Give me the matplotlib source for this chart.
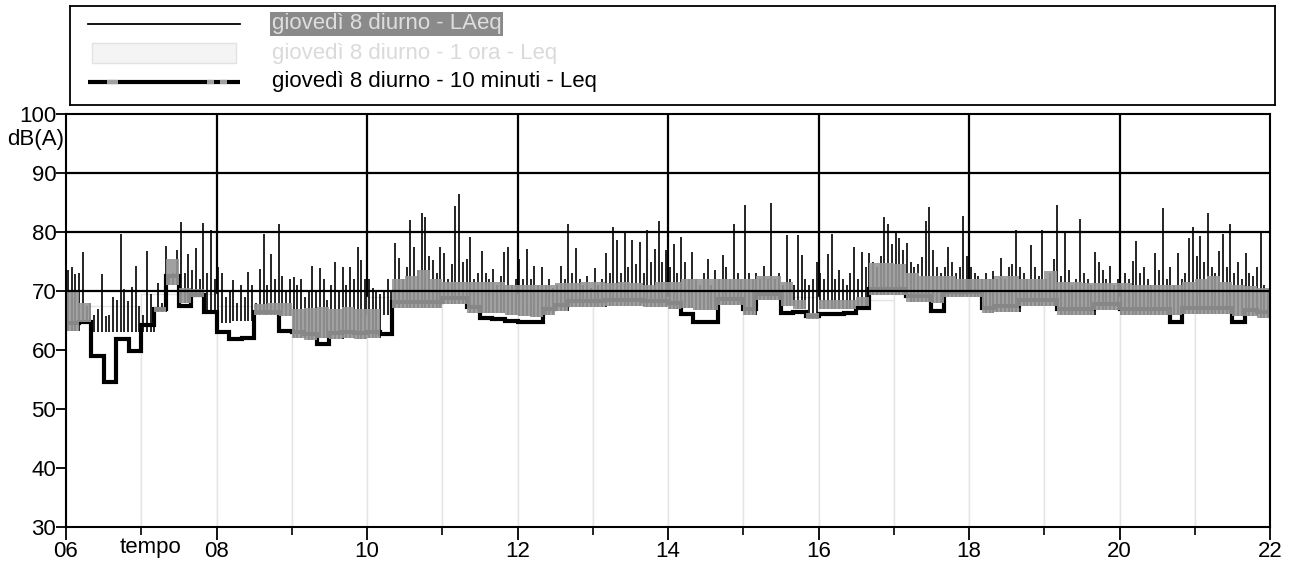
import numpy as np
import matplotlib
matplotlib.use("Agg")
import matplotlib.pyplot as plt

plt.rcParams['font.family'] = ['Liberation Sans', 'DejaVu Sans']

# ---------------- data ----------------
hours = list(range(6, 22))
leq_1h = [67.5, 69.5, 67.5, 66.0, 69.0, 69.5, 69.0, 69.0,
          68.5, 69.0, 68.5, 69.5, 69.5, 69.0, 68.5, 68.5]

leq_10min = [64.5, 64.7, 59.0, 54.6, 61.8, 59.8, 64.3, 66.9, 72.5, 67.4, 69.4, 66.5,
             63.0, 61.8, 62.1, 66.5, 66.5, 63.2, 63.0, 62.7, 61.0, 62.8, 63.0, 62.8,
             63.0, 62.7, 68.2, 68.2, 68.2, 68.2, 68.8, 68.8, 67.3, 65.5, 65.3, 65.0,
             64.8, 64.7, 66.9, 67.6, 68.3, 68.3, 68.3, 68.5, 68.5, 68.5, 68.3, 68.3,
             68.0, 66.1, 64.7, 64.7, 68.7, 68.7, 66.9, 69.5, 69.5, 66.2, 66.5, 65.7,
             66.1, 66.1, 66.3, 67.2, 70.3, 70.3, 70.3, 69.1, 69.1, 66.6, 69.9, 69.9,
             69.9, 67.2, 67.5, 67.5, 68.4, 68.4, 68.4, 66.9, 66.9, 66.9, 67.8, 67.8,
             67.0, 67.0, 67.0, 67.0, 64.7, 67.1, 67.1, 67.1, 67.1, 64.8, 66.8, 66.5]

band_low = [63.3, 64.8, 63.0, 63.0, 63.0, 63.0, 63.0, 66.5, 71.0, 68.0, 69.0, 66.5,
            64.5, 65.0, 65.0, 66.0, 66.0, 65.8, 62.0, 61.7, 62.0, 61.8, 62.0, 61.8,
            62.0, 66.0, 67.2, 67.2, 67.2, 67.2, 67.8, 67.8, 66.3, 66.3, 66.3, 66.0,
            65.8, 65.6, 65.9, 66.6, 67.3, 67.3, 67.3, 67.5, 67.5, 67.5, 67.3, 67.3,
            67.0, 67.2, 66.8, 66.8, 67.7, 67.7, 65.9, 68.5, 68.5, 67.5, 67.0, 65.2,
            67.0, 67.0, 67.0, 67.5, 69.3, 69.3, 69.3, 68.1, 68.1, 68.0, 68.9, 68.9,
            68.9, 66.2, 66.5, 66.5, 67.4, 67.4, 67.4, 65.9, 65.9, 65.9, 66.8, 66.8,
            66.0, 66.0, 66.0, 66.0, 66.0, 66.1, 66.1, 66.1, 66.1, 65.8, 65.8, 65.5]

band_high = [70.0, 68.0, 63.0, 63.0, 63.0, 63.0, 63.0, 67.3, 75.5, 70.5, 70.3, 66.5,
             64.5, 65.0, 65.0, 67.8, 68.0, 68.0, 67.0, 67.2, 67.3, 67.0, 67.3, 67.0,
             67.0, 66.0, 72.0, 72.5, 73.5, 72.0, 71.5, 71.5, 71.5, 71.5, 71.5, 71.0,
             71.0, 71.0, 71.0, 71.3, 71.3, 71.5, 71.5, 71.3, 71.5, 71.3, 71.0, 71.5,
             71.5, 72.0, 72.0, 72.0, 72.0, 72.0, 72.0, 72.5, 72.5, 71.5, 68.5, 66.2,
             68.5, 68.5, 68.5, 69.0, 74.8, 74.8, 74.5, 73.0, 72.5, 72.5, 72.5, 72.0,
             72.0, 72.0, 72.5, 72.5, 72.0, 72.0, 73.4, 71.5, 71.5, 71.3, 71.3, 71.3,
             71.3, 71.0, 71.0, 71.0, 71.0, 71.5, 72.0, 72.5, 71.5, 71.0, 70.8, 70.5]

laeq_3min = [
    73.5, 74.0, 72.8, 73.0, 76.6, 67.5, 68.0, 66.0, 67.0, 72.8, 65.8, 66.0, 69.0, 68.5, 79.6, 70.3, 68.3, 70.6, 74.3, 67.5,  # 06
    66.0, 76.7, 69.5, 67.0, 71.3, 68.0, 77.7, 72.5, 73.0, 77.0, 81.7, 73.0, 76.2, 73.5, 77.3, 72.0, 81.5, 73.0, 80.3, 72.0,  # 07
    74.0, 73.0, 69.0, 70.0, 71.9, 68.0, 71.0, 69.0, 73.3, 71.0, 68.0, 73.8, 79.7, 71.0, 76.3, 72.0, 81.3, 72.5, 70.0, 72.0,  # 08
    72.3, 71.0, 72.1, 69.0, 70.0, 74.2, 70.0, 73.9, 72.0, 68.5, 71.0, 75.0, 70.0, 74.0, 71.0, 74.0, 72.0, 77.4, 75.3, 72.0,  # 09
    72.0, 70.5, 70.0, 69.5, 70.0, 72.1, 70.0, 78.1, 75.6, 72.0, 74.0, 82.1, 77.5, 73.6, 83.3, 82.6, 76.0, 75.3, 73.0, 77.5,  # 10
    76.5, 72.0, 74.5, 84.4, 86.5, 75.0, 75.4, 79.1, 72.0, 73.0, 76.7, 73.0, 72.0, 73.7, 71.0, 72.5, 76.6, 77.5, 71.0, 72.0,  # 11
    75.5, 72.0, 77.2, 72.0, 74.3, 71.0, 74.1, 71.0, 72.0, 70.5, 71.0, 74.2, 72.0, 81.4, 73.0, 77.3, 72.0, 71.0, 72.5, 70.5,  # 12
    73.9, 71.0, 72.0, 76.4, 73.0, 80.9, 78.7, 73.0, 79.9, 74.0, 78.6, 74.5, 78.3, 73.0, 80.4, 75.0, 77.2, 81.9, 75.0, 77.0,  # 13
    74.0, 78.0, 73.0, 79.2, 75.0, 72.0, 76.6, 72.0, 71.0, 73.0, 75.4, 71.0, 73.5, 72.0, 76.1, 74.0, 72.0, 81.4, 73.0, 72.0,  # 14
    84.5, 73.0, 72.0, 73.0, 72.0, 74.3, 72.0, 85.0, 72.0, 73.0, 71.0, 79.5, 72.0, 71.0, 79.5, 76.1, 72.0, 71.0, 72.0, 75.0,  # 15
    73.0, 72.0, 76.2, 79.6, 72.0, 73.5, 72.0, 71.0, 73.0, 77.5, 72.0, 76.6, 74.0, 76.5, 75.0, 74.0, 76.0, 82.6, 81.3, 78.0,  # 16
    80.1, 79.0, 77.0, 78.2, 75.0, 74.0, 74.5, 75.8, 81.8, 84.2, 77.0, 74.0, 73.0, 74.0, 77.4, 75.0, 73.0, 74.0, 82.7, 76.0,  # 17
    74.0, 73.0, 72.5, 72.0, 73.0, 72.0, 73.4, 72.0, 75.6, 72.0, 74.0, 74.5, 80.3, 74.0, 73.0, 72.0, 77.8, 74.0, 72.5, 80.4,  # 18
    72.0, 73.0, 75.5, 84.5, 72.5, 80.2, 73.5, 71.0, 72.0, 82.2, 73.0, 72.0, 71.0, 76.6, 75.0, 73.5, 72.0, 74.2, 71.0, 72.0,  # 19
    71.0, 73.0, 72.0, 75.1, 78.5, 73.0, 74.0, 72.0, 71.0, 76.4, 73.5, 84.0, 72.0, 74.0, 71.0, 76.4, 72.0, 73.0, 79.0, 80.9,  # 20
    76.0, 79.4, 75.0, 83.2, 74.0, 73.0, 76.7, 79.7, 74.0, 81.4, 73.0, 74.9, 72.0, 76.5, 73.0, 72.5, 74.0, 79.8, 71.0, 70.0,  # 21
]

x_ticks = [6, 8, 10, 12, 14, 16, 18, 20, 22]
x_tick_labels = ["06", "08", "10", "12", "14", "16", "18", "20", "22"]
y_ticks = [30, 40, 50, 60, 70, 80, 90, 100]

legend_labels = ["giovedì 8 diurno - LAeq",
                 "giovedì 8 diurno - 1 ora - Leq",
                 "giovedì 8 diurno - 10 minuti - Leq"]

# ---------------- figure ----------------
W, H = 1292, 576
fig = plt.figure(figsize=(W / 100, H / 100), dpi=100)
fig.patch.set_facecolor('white')

ax_l, ax_r, ax_t, ax_b = 66, 1270, 114, 527
ax = fig.add_axes([ax_l / W, 1 - ax_b / H, (ax_r - ax_l) / W, (ax_b - ax_t) / H])
ax.set_xlim(6, 22)
ax.set_ylim(30, 100)

# vertical grid (hidden below by the hourly area)
for h in x_ticks[1:-1]:
    ax.axvline(h, color='black', lw=1.6, zorder=0.5)

# hourly Leq area
ax.bar(hours, np.array(leq_1h) - 30, bottom=30, width=1.0, align='edge',
       color='white', edgecolor='#e4e4e4', lw=1.0, zorder=1)

n10 = len(leq_10min)
t10 = 6 + np.arange(n10 + 1) / 6.0

# 10-min Leq black step
ax.step(t10, leq_10min + [leq_10min[-1]], where='post', color='black',
        lw=3.0, zorder=2, solid_joinstyle='miter')

# LAeq spikes
n3 = len(laeq_3min)
t3 = 6 + (np.arange(n3) + 0.5) * 0.05
base = np.array([band_low[(3 * j) // 10] for j in range(n3)])
ax.vlines(t3, base, laeq_3min, color='black', lw=1.2, zorder=2.5)

# grey band
ax.fill_between(t10, band_low + [band_low[-1]], band_high + [band_high[-1]],
                step='post', color='#979797', alpha=0.9, lw=0, zorder=3)

# horizontal grid on top
for v in (70, 80, 90):
    ax.axhline(v, color='black', lw=1.6, zorder=5)

for s in ax.spines.values():
    s.set_linewidth(1.5)
    s.set_color('black')
    s.set_zorder(6)

ax.set_xticks(x_ticks)
ax.set_xticklabels(x_tick_labels)
ax.set_xticks(list(range(7, 22, 2)), minor=True)
ax.set_yticks(y_ticks)
ax.set_yticklabels([str(v) for v in y_ticks])
ax.tick_params(axis='y', direction='out', length=7, width=1.3, pad=0, labelsize=16)
ax.tick_params(axis='x', which='major', direction='out', length=9, width=1.3, pad=1, labelsize=16)
ax.tick_params(axis='x', which='minor', direction='out', length=6, width=1.2)

fig.text(64 / W, 1 - 140 / H, "dB(A)", ha='right', va='center', fontsize=16)
fig.text(150 / W, 1 - 553 / H, "tempo", ha='center', va='baseline', fontsize=16)

# ---------------- legend box ----------------
lg_l, lg_r, lg_t, lg_b = 70, 1275, 6, 105
lax = fig.add_axes([lg_l / W, 1 - lg_b / H, (lg_r - lg_l) / W, (lg_b - lg_t) / H])
lax.set_xlim(lg_l, lg_r)
lax.set_ylim(lg_b, lg_t)
lax.set_xticks([])
lax.set_yticks([])
for s in lax.spines.values():
    s.set_linewidth(1.3)
    s.set_color('black')

rows = [24, 53, 82]
hx0, hx1, tx = 88, 240, 272
# entry 1: thin black line
lax.plot([hx0, hx1], [rows[0], rows[0]], color='black', lw=1.3)
lax.text(tx, rows[0], legend_labels[0], fontsize=16, va='center', ha='left',
         color='#dedede',
         bbox=dict(boxstyle='square,pad=0.08', facecolor='#8a8a8a', edgecolor='none'))
# entry 2: very light area patch
lax.add_patch(plt.Rectangle((hx0 + 4, rows[1] - 10), hx1 - hx0 - 8, 20,
                            facecolor='#f4f4f4', edgecolor='#e2e2e2', lw=1.0))
lax.text(tx, rows[1], legend_labels[1], fontsize=16, va='center', ha='left',
         color='#dadada')
# entry 3: thick black with grey marks
lax.plot([hx0, hx1], [rows[2], rows[2]], color='black', lw=3.0, solid_capstyle='butt')
for a, b in ((107, 118), (207, 214), (220, 227)):
    lax.plot([a, b], [rows[2], rows[2]], color='#a0a0a0', lw=3.0, solid_capstyle='butt')
lax.text(tx, rows[2], legend_labels[2], fontsize=16, va='center', ha='left',
         color='black')

fig.savefig("out.png", dpi=100, facecolor='white')
